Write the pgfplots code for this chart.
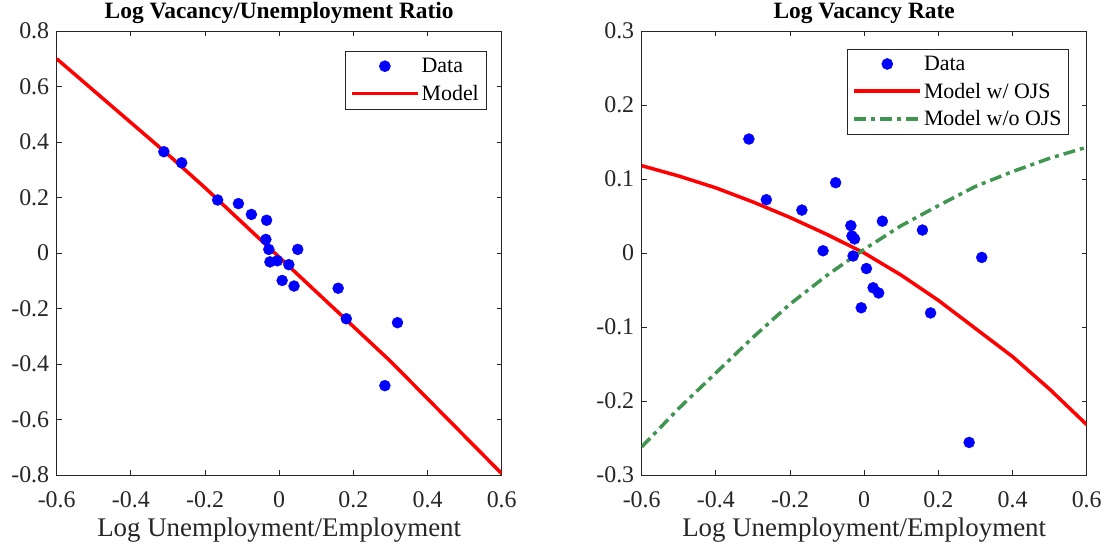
\documentclass[border=0pt]{standalone}
\usepackage{pgfplots}
\pgfplotsset{compat=1.18}
\usepackage{fontspec}
\setmainfont{Liberation Serif}
\definecolor{dgreen}{RGB}{64,150,80}
\definecolor{axgray}{RGB}{38,38,38}

\pgfplotsset{
    panel/.style={
        scale only axis,
        width=445bp, height=444bp,
        xmin=-0.6, xmax=0.6,
        xtick={-0.6,-0.4,-0.2,0,0.2,0.4,0.6},
        xticklabels={-0.6,-0.4,-0.2,0,0.2,0.4,0.6},
        tick align=inside,
        major tick length=5bp,
        axis line style={axgray, line width=0.8bp},
        every tick/.style={axgray, line width=0.8bp},
        tick label style={font=\fontsize{24}{28}\selectfont, text=axgray},
        xticklabel style={yshift=-13bp},
        yticklabel style={xshift=-4bp},
        label style={font=\fontsize{27}{31}\selectfont, text=axgray},
        xlabel style={yshift=-3bp},
        title style={font=\fontsize{23.5}{27}\selectfont\bfseries, yshift=-2bp},
        xlabel={Log Unemployment/Employment},
        legend style={font=\fontsize{22}{26}\selectfont, draw=axgray, line width=0.6bp,
            cells={anchor=west}, row sep=7bp, inner xsep=5bp, inner ysep=5bp},
        legend image code/.code={
            \draw[mark repeat=2, mark phase=2, #1] plot coordinates {(0bp,0bp) (33bp,0bp) (66bp,0bp)};
        },
    },
}

\begin{document}
\begin{tikzpicture}
\path[use as bounding box] (-56.7bp,-77bp) rectangle (1050.3bp,475bp);

\begin{axis}[panel,
    at={(0bp,0bp)}, anchor=south west,
    ymin=-0.8, ymax=0.8,
    ytick={-0.8,-0.6,-0.4,-0.2,0,0.2,0.4,0.6,0.8},
    yticklabels={-0.8,-0.6,-0.4,-0.2,0,0.2,0.4,0.6,0.8},
    title={Log Vacancy/Unemployment Ratio},
    legend style={at={(0.965,0.955)}, anchor=north east},
]
% data points
\addplot[only marks, mark=*, mark size=5.5bp, blue, draw=none, fill=blue] coordinates {
    (-0.311, 0.365)
    (-0.263, 0.325)
    (-0.166, 0.191)
    (-0.110, 0.178)
    (-0.075, 0.139)
    (-0.034, 0.118)
    (-0.036, 0.049)
    (-0.028, 0.013)
    (0.050, 0.013)
    (-0.025, -0.032)
    (-0.005, -0.028)
    (0.026, -0.042)
    (0.008, -0.099)
    (0.040, -0.119)
    (0.159, -0.127)
    (0.181, -0.237)
    (0.319, -0.251)
    (0.285, -0.478)
};
\addlegendentry{Data}
% model
\addplot[red, line width=3.5bp] coordinates {
    (-0.6, 0.700) (-0.5, 0.585) (-0.4, 0.470) (-0.3, 0.355)
    (-0.2, 0.235) (-0.1, 0.110) (0, -0.015) (0.1, -0.140)
    (0.2, -0.265) (0.3, -0.390) (0.4, -0.525) (0.5, -0.660) (0.6, -0.795)
};
\addlegendentry{Model}
\end{axis}

\begin{axis}[panel,
    at={(585bp,0bp)}, anchor=south west,
    ymin=-0.3, ymax=0.3,
    ytick={-0.3,-0.2,-0.1,0,0.1,0.2,0.3},
    yticklabels={-0.3,-0.2,-0.1,0,0.1,0.2,0.3},
    title={Log Vacancy Rate},
    legend style={at={(0.96,0.96)}, anchor=north east},
]
\addplot[only marks, mark=*, mark size=5.5bp, blue, draw=none, fill=blue] coordinates {
    (-0.311, 0.154)
    (-0.264, 0.072)
    (-0.077, 0.095)
    (-0.168, 0.058)
    (-0.036, 0.037)
    (0.049, 0.043)
    (0.157, 0.031)
    (-0.033, 0.023)
    (-0.026, 0.019)
    (-0.111, 0.003)
    (-0.030, -0.004)
    (0.006, -0.021)
    (0.317, -0.006)
    (0.024, -0.047)
    (0.039, -0.054)
    (-0.008, -0.074)
    (0.179, -0.081)
    (0.283, -0.256)
};
\addlegendentry{Data}
\addplot[red, line width=3.5bp] coordinates {
    (-0.6, 0.118) (-0.5, 0.104) (-0.4, 0.088) (-0.3, 0.069)
    (-0.2, 0.048) (-0.1, 0.025) (0, 0.000) (0.1, -0.030)
    (0.2, -0.064) (0.3, -0.102) (0.4, -0.140) (0.5, -0.184) (0.6, -0.232)
};
\addlegendentry{Model w/ OJS}
\addplot[dgreen, line width=3.5bp, dash pattern=on 12bp off 5bp on 4bp off 5bp] coordinates {
    (-0.6, -0.262) (-0.5, -0.210) (-0.4, -0.162) (-0.3, -0.114)
    (-0.2, -0.069) (-0.1, -0.030) (0, 0.005) (0.1, 0.037)
    (0.2, 0.064) (0.3, 0.090) (0.4, 0.110) (0.5, 0.128) (0.6, 0.143)
};
\addlegendentry{Model w/o OJS}
\end{axis}
\end{tikzpicture}
\end{document}
